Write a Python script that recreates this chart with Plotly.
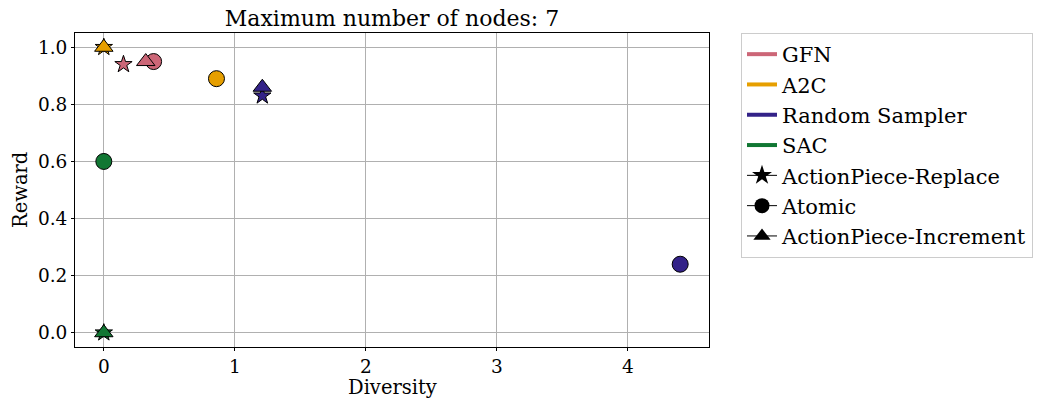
import plotly.graph_objects as go

methods = ["GFN", "A2C", "Random Sampler", "SAC"]
colors = ["#CC6677", "#E69F00", "#332288", "#117733"]

# Diversity / Reward per tokenization
replace_div = [0.15, 0.0, 1.21, 0.0]
replace_rew = [0.94, 1.0, 0.83, 0.0]
atomic_div = [0.38, 0.86, 4.4, 0.0]
atomic_rew = [0.95, 0.89, 0.24, 0.6]
increment_div = [0.32, 0.0, 1.21, 0.0]
increment_rew = [0.95, 1.0, 0.86, 0.0]

title_text = "Maximum number of nodes: 7"
x_label = "Diversity"
y_label = "Reward"
x_ticks = [0, 1, 2, 3, 4]
y_ticks = [0.0, 0.2, 0.4, 0.6, 0.8, 1.0]

FONT = "DejaVu Serif"
W, H = 1052, 400
L, R, T, B = 75, 343, 33, 53
PW, PH = W - L - R, H - T - B

fig = go.Figure()

shapes = [
    ("ActionPiece-Replace", "star", replace_div, replace_rew, 13),
    ("Atomic", "circle", atomic_div, atomic_rew, 16),
    ("ActionPiece-Increment", "triangle-up", increment_div, increment_rew, 16),
]

for i, (m, c) in enumerate(zip(methods, colors)):
    for name, sym, xs, ys, sz in shapes:
        fig.add_trace(go.Scatter(
            x=[xs[i]], y=[ys[i]], mode="markers",
            marker=dict(symbol=sym, size=sz, color=c, line=dict(color="black", width=1)),
            showlegend=False, hoverinfo="skip",
        ))

for m, c in zip(methods, colors):
    fig.add_trace(go.Scatter(x=[None], y=[None], mode="lines", name=m,
                             line=dict(color=c, width=4)))
for name, sym, xs, ys, sz in shapes:
    fig.add_trace(go.Scatter(x=[None], y=[None], mode="lines+markers", name=name,
                             line=dict(color="black", width=1),
                             marker=dict(symbol=sym, size=15, color="black")))

axis_common = dict(
    showline=True, linecolor="black", linewidth=1, mirror=True,
    ticks="outside", ticklen=3, tickcolor="black", automargin=False,
    showgrid=True, gridcolor="#b0b0b0", gridwidth=1, zeroline=False,
    tickfont=dict(family=FONT, size=18.5, color="black"),
)

fig.update_layout(
    width=W, height=H,
    margin=dict(l=L, r=R, t=T, b=B),
    paper_bgcolor="white", plot_bgcolor="white",
    font=dict(family=FONT, size=20, color="black"),
    title=dict(text=title_text, x=(L + PW / 2) / W, xanchor="center",
               y=1 - 18 / H, yanchor="middle",
               font=dict(family=FONT, size=22, color="black")),
    xaxis=dict(range=[-0.22, 4.62], tickvals=x_ticks, **axis_common),
    yaxis=dict(range=[-0.05, 1.05], tickvals=y_ticks, tickformat=".1f", **axis_common),
    legend=dict(x=(741 - L) / PW, y=1.0, xanchor="left", yanchor="top",
                bordercolor="#cccccc", borderwidth=1, bgcolor="white",
                font=dict(family=FONT, size=21, color="black"),
                tracegroupgap=0, itemwidth=30),
    annotations=[
        dict(text=x_label, xref="paper", yref="paper", x=0.5,
             y=-(400 - (T + PH)) / PH, xanchor="center", yanchor="bottom",
             borderpad=0, showarrow=False,
             font=dict(family=FONT, size=19.5, color="black")),
        dict(text=y_label, xref="paper", yref="paper", x=-(L - 20) / PW,
             y=0.5, xanchor="center", yanchor="middle", textangle=-90,
             showarrow=False, font=dict(family=FONT, size=19.5, color="black")),
    ],
)

fig.write_html("out.html")
